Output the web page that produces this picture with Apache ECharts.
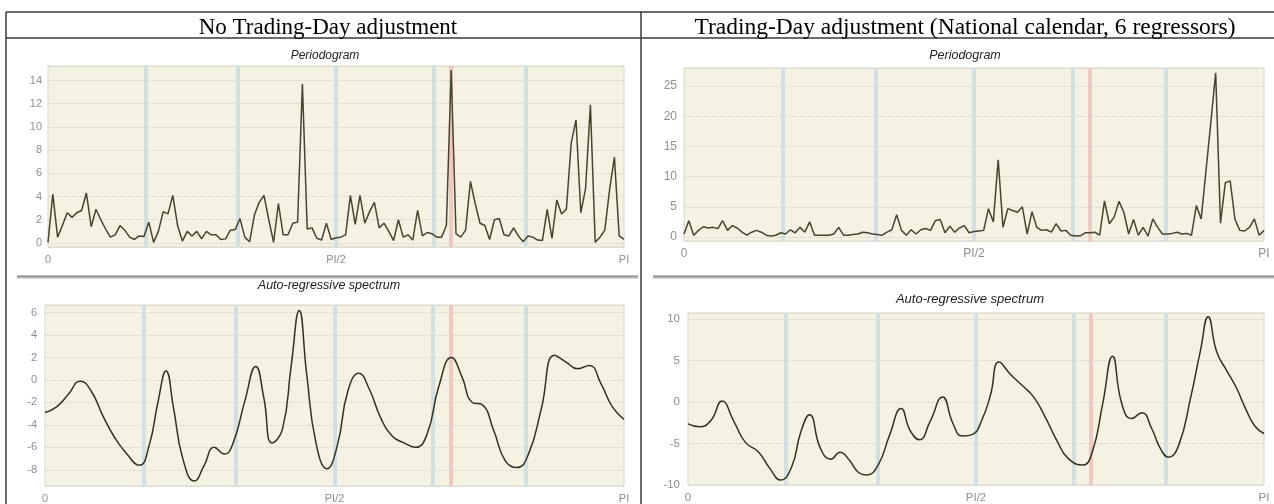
<!DOCTYPE html>
<html>
<head>
<meta charset="utf-8">
<title>Spectral diagnostics</title>
<script src="https://cdn.jsdelivr.net/npm/echarts@6/dist/echarts.min.js"></script>
<style>
  html, body { margin: 0; padding: 0; background: #fff; }
  #chart { width: 1274px; height: 504px; }
</style>
</head>
<body>
<div id="chart"></div>
<script>
// periodogram values, 121 frequencies from 0 to PI
var periodNoTd = [0.05, 4.2, 0.5, 1.5, 2.6, 2.2, 2.6, 2.8, 4.3, 1.4, 2.9, 2.0, 1.2, 0.5, 0.7, 1.5, 1.1, 0.5, 0.3, 0.6,
  0.55, 1.8, 0.05, 1.0, 2.7, 2.5, 4.1, 1.5, 0.15, 1.0, 0.6, 1.0, 0.35, 1.0, 0.7, 0.7, 0.3, 0.35, 1.1, 1.15,
  2.1, 0.5, 0.1, 2.4, 3.5, 4.1, 2.0, 0.05, 3.4, 0.7, 0.7, 1.7, 1.8, 13.7, 1.2, 1.3, 0.4, 0.25, 1.7, 0.3,
  0.45, 0.5, 0.7, 4.1, 1.6, 4.1, 1.7, 2.7, 3.5, 1.3, 1.7, 1.0, 0.2, 2.0, 0.5, 0.7, 0.25, 2.8, 0.6, 0.9,
  0.8, 0.5, 0.5, 1.5, 14.9, 0.8, 0.5, 1.1, 5.3, 3.4, 1.7, 1.5, 0.3, 2.0, 2.1, 0.7, 0.6, 1.3, 0.6, 0.1,
  0.6, 0.5, 0.25, 0.2, 2.9, 0.4, 3.7, 2.5, 2.9, 8.6, 10.6, 2.6, 4.7, 11.9, 0.05, 0.5, 1.1, 4.6, 7.4, 0.6, 0.3];
var periodTd = [0.5, 2.7, 0.3, 1.1, 1.7, 1.5, 1.6, 1.4, 2.7, 1.1, 1.9, 1.5, 0.8, 0.3, 0.8, 1.1, 0.8, 0.3, 0.15, 0.3,
  0.7, 0.5, 1.2, 0.7, 1.6, 0.8, 2.5, 0.3, 0.3, 0.3, 0.3, 0.5, 1.6, 0.3, 0.3, 0.4, 0.5, 0.8, 0.7, 0.5,
  0.4, 0.3, 0.8, 1.2, 3.7, 1.1, 0.3, 1.2, 0.5, 1.2, 1.4, 1.1, 2.7, 2.9, 0.7, 1.8, 0.8, 1.5, 1.9, 0.7,
  0.9, 1.0, 1.1, 4.7, 2.5, 12.8, 1.6, 4.7, 4.4, 4.1, 5.0, 0.5, 4.2, 1.6, 1.1, 1.2, 0.8, 2.2, 1.0, 1.1,
  0.3, 0.15, 0.2, 0.7, 0.7, 0.8, 0.3, 6.0, 2.2, 3.3, 5.9, 4.1, 0.5, 2.9, 0.3, 1.6, 0.15, 3.0, 1.6, 0.5,
  0.5, 0.6, 0.8, 0.5, 0.6, 0.3, 5.2, 3.0, 11, 19, 27.2, 2.3, 9.0, 9.3, 2.9, 1.1, 1.0, 1.6, 3.0, 0.3, 1.1];

// auto-regressive spectrum, frequency as a fraction of PI
var arNoTdFreq = [0, 0.02, 0.04, 0.061, 0.08, 0.1, 0.12, 0.14, 0.163, 0.18, 0.195, 0.209, 0.222, 0.238,
  0.258, 0.275, 0.292, 0.31, 0.325, 0.345, 0.364, 0.378, 0.392, 0.41, 0.425, 0.439, 0.452, 0.468,
  0.487, 0.505, 0.523, 0.542, 0.56, 0.58, 0.6, 0.62, 0.64, 0.66, 0.68, 0.702, 0.72, 0.738, 0.755,
  0.775, 0.795, 0.815, 0.835, 0.857, 0.88, 0.9, 0.92, 0.94, 0.96, 0.98, 1];
var arNoTdVal = [-2.9, -2.4, -1.3, -0.1, -1.0, -3.2, -5.1, -6.5, -7.6, -5.8, -2.0, 0.8, -2.5, -7.0,
  -9.0, -7.6, -6.0, -6.6, -5.6, -1.9, 1.2, -1.6, -5.6, -4.4, 1.2, 6.2, 0.5, -5.6,
  -7.9, -5.8, -1.0, 0.6, -0.8, -3.4, -5.0, -5.6, -6.0, -4.8, -0.6, 2.0, 0.3, -2.0, -2.2,
  -4.5, -7.2, -7.8, -6.6, -2.6, 2.2, 1.6, 1.0, 1.3, -0.3, -2.4, -3.5];
var arTdFreq = [0, 0.02, 0.04, 0.059, 0.08, 0.1, 0.122, 0.142, 0.161, 0.18, 0.196, 0.211, 0.23, 0.248,
  0.264, 0.28, 0.296, 0.31, 0.33, 0.35, 0.37, 0.386, 0.402, 0.42, 0.442, 0.46, 0.476, 0.494, 0.51,
  0.525, 0.54, 0.56, 0.58, 0.6, 0.62, 0.64, 0.66, 0.685, 0.702, 0.72, 0.737, 0.753, 0.77, 0.788,
  0.805, 0.82, 0.834, 0.852, 0.872, 0.89, 0.903, 0.918, 0.935, 0.952, 0.968, 0.984, 1];
var arTdVal = [-2.65, -3.0, -2.2, 0.1, -2.4, -4.9, -6.0, -8.0, -9.4, -7.8, -3.6, -1.55, -5.6, -6.9,
  -6.05, -7.0, -8.5, -8.8, -7.6, -4.0, -0.8, -3.5, -4.55, -2.4, 0.6, -2.6, -4.1, -3.9, -2.2,
  0.8, 4.8, 3.3, 2.0, 0.6, -1.8, -4.6, -6.8, -7.6, -6.0, -0.2, 5.5, -0.2, -2.0, -1.3,
  -3.2, -5.6, -6.65, -5.2, 0.3, 6.3, 10.25, 6.0, 3.8, 1.7, -0.8, -2.9, -3.8];

// seasonal and trading-day frequencies (fraction of PI)
var seasonalFreq = [1 / 6, 2 / 6, 3 / 6, 4 / 6, 5 / 6];
var tdFreq = [0.696];
var xLabels = ["0", "PI/2", "PI"];

var chart = echarts.init(document.getElementById("chart"));

function indexPairs(vals) {
  var n = vals.length - 1;
  return vals.map(function(v, i) { return [i / n, v]; });
}
function zipPairs(xs, ys) {
  return xs.map(function(x, i) { return [x, ys[i]]; });
}

// grid boxes: [left, top, width, height]
var boxes = [
  [48, 66, 576, 181],
  [684, 68, 580, 173],
  [45, 305, 579, 182],
  [688, 313, 576, 174]
];
var yRanges = [
  { min: -0.35, max: 15.25, split: 8, minLabel: false, size: 11, margin: 6 },
  { min: -0.66, max: 28, split: 6, minLabel: false, size: 12, margin: 7 },
  { min: -9.44, max: 6.68, split: 8, minLabel: false, size: 11, margin: 8 },
  { min: -10, max: 10.7, split: 4, minLabel: true, size: 11.5, margin: 8 }
];

var grids = [], xAxes = [], yAxes = [], series = [];
boxes.forEach(function(b, i) {
  var r = yRanges[i];
  grids.push({
    left: b[0], top: b[1], width: b[2], height: b[3],
    show: true,
    backgroundColor: "#f4f2e3",
    borderColor: "#d8d7cd",
    borderWidth: 1
  });
  xAxes.push({
    gridIndex: i,
    type: "value",
    min: 0,
    max: 1,
    interval: 0.5,
    axisLine: { show: false },
    axisTick: { show: false },
    splitLine: { show: false },
    axisLabel: {
      color: "#8e8e8e",
      fontSize: r.size,
      fontFamily: "Liberation Sans",
      margin: 7,
      formatter: function(v) { return xLabels[Math.round(v * 2)]; }
    }
  });
  yAxes.push({
    gridIndex: i,
    type: "value",
    min: r.min,
    max: r.max,
    splitNumber: r.split,
    axisLine: { show: false },
    axisTick: { show: false },
    splitLine: { show: true, lineStyle: { color: "#d3d1c4", type: "dotted", width: 1 } },
    axisLabel: {
      color: "#8e8e8e",
      fontSize: r.size,
      fontFamily: "Liberation Sans",
      margin: r.margin,
      showMinLabel: r.minLabel,
      showMaxLabel: false
    }
  });
  // frequency bands (seasonal = blue, trading day = red), kept under the curve
  var bands = seasonalFreq.map(function(f) {
    return { xAxis: f, lineStyle: { color: "#d4dfe3" } };
  }).concat(tdFreq.map(function(f) {
    return { xAxis: f, lineStyle: { color: "#efc8c2" } };
  }));
  series.push({
    type: "line",
    xAxisIndex: i,
    yAxisIndex: i,
    data: [],
    z: 1,
    markLine: {
      z: 1,
      silent: true,
      symbol: ["none", "none"],
      label: { show: false },
      lineStyle: { width: 4, type: "solid", opacity: 1 },
      emphasis: { disabled: true },
      data: bands
    }
  });
});

var curves = [
  { data: indexPairs(periodNoTd), smooth: false, color: "#48442f" },
  { data: indexPairs(periodTd), smooth: false, color: "#48442f" },
  { data: zipPairs(arNoTdFreq, arNoTdVal), smooth: 0.5, color: "#33311f" },
  { data: zipPairs(arTdFreq, arTdVal), smooth: 0.5, color: "#33311f" }
];
curves.forEach(function(c, i) {
  series.push({
    type: "line",
    xAxisIndex: i,
    yAxisIndex: i,
    data: c.data,
    z: 5,
    symbol: "none",
    smooth: c.smooth,
    lineStyle: { color: c.color, width: 1.5 }
  });
});

var lineCol = "#3a3a3a";
chart.setOption({
  animation: false,
  title: [
    { text: "No Trading-Day adjustment", left: 323, top: 11, textAlign: "center",
      textStyle: { fontFamily: "Liberation Serif", fontWeight: "normal", fontSize: 23, color: "#000" } },
    { text: "Trading-Day adjustment (National calendar, 6 regressors)", left: 960, top: 11, textAlign: "center",
      textStyle: { fontFamily: "Liberation Serif", fontWeight: "normal", fontSize: 23.5, color: "#000" } },
    { text: "Periodogram", left: 320, top: 45, textAlign: "center",
      textStyle: { fontFamily: "Liberation Sans", fontStyle: "italic", fontWeight: "normal", fontSize: 12, color: "#222" } },
    { text: "Periodogram", left: 960, top: 44, textAlign: "center",
      textStyle: { fontFamily: "Liberation Sans", fontStyle: "italic", fontWeight: "normal", fontSize: 12.5, color: "#222" } },
    { text: "Auto-regressive spectrum", left: 324, top: 274, textAlign: "center",
      textStyle: { fontFamily: "Liberation Sans", fontStyle: "italic", fontWeight: "normal", fontSize: 12.5, color: "#222" } },
    { text: "Auto-regressive spectrum", left: 965, top: 288, textAlign: "center",
      textStyle: { fontFamily: "Liberation Sans", fontStyle: "italic", fontWeight: "normal", fontSize: 13, color: "#222" } }
  ],
  graphic: [
    // table frame
    { type: "line", shape: { x1: 6, y1: 12, x2: 1274, y2: 12 }, style: { stroke: lineCol, lineWidth: 1.5 } },
    { type: "line", shape: { x1: 6, y1: 38, x2: 1274, y2: 38 }, style: { stroke: lineCol, lineWidth: 1.5 } },
    { type: "line", shape: { x1: 6, y1: 12, x2: 6, y2: 504 }, style: { stroke: lineCol, lineWidth: 1.5 } },
    { type: "line", shape: { x1: 641, y1: 12, x2: 641, y2: 504 }, style: { stroke: lineCol, lineWidth: 1.5 } },
    // separators between the two panels
    { type: "line", shape: { x1: 17, y1: 276.5, x2: 638, y2: 276.5 }, style: { stroke: "#888", lineWidth: 2 } },
    { type: "line", shape: { x1: 17, y1: 278.5, x2: 638, y2: 278.5 }, style: { stroke: "#d0d0d0", lineWidth: 1 } },
    { type: "line", shape: { x1: 653, y1: 276.5, x2: 1274, y2: 276.5 }, style: { stroke: "#888", lineWidth: 2 } },
    { type: "line", shape: { x1: 653, y1: 278.5, x2: 1274, y2: 278.5 }, style: { stroke: "#d0d0d0", lineWidth: 1 } }
  ],
  grid: grids,
  xAxis: xAxes,
  yAxis: yAxes,
  series: series
});
</script>
</body>
</html>
